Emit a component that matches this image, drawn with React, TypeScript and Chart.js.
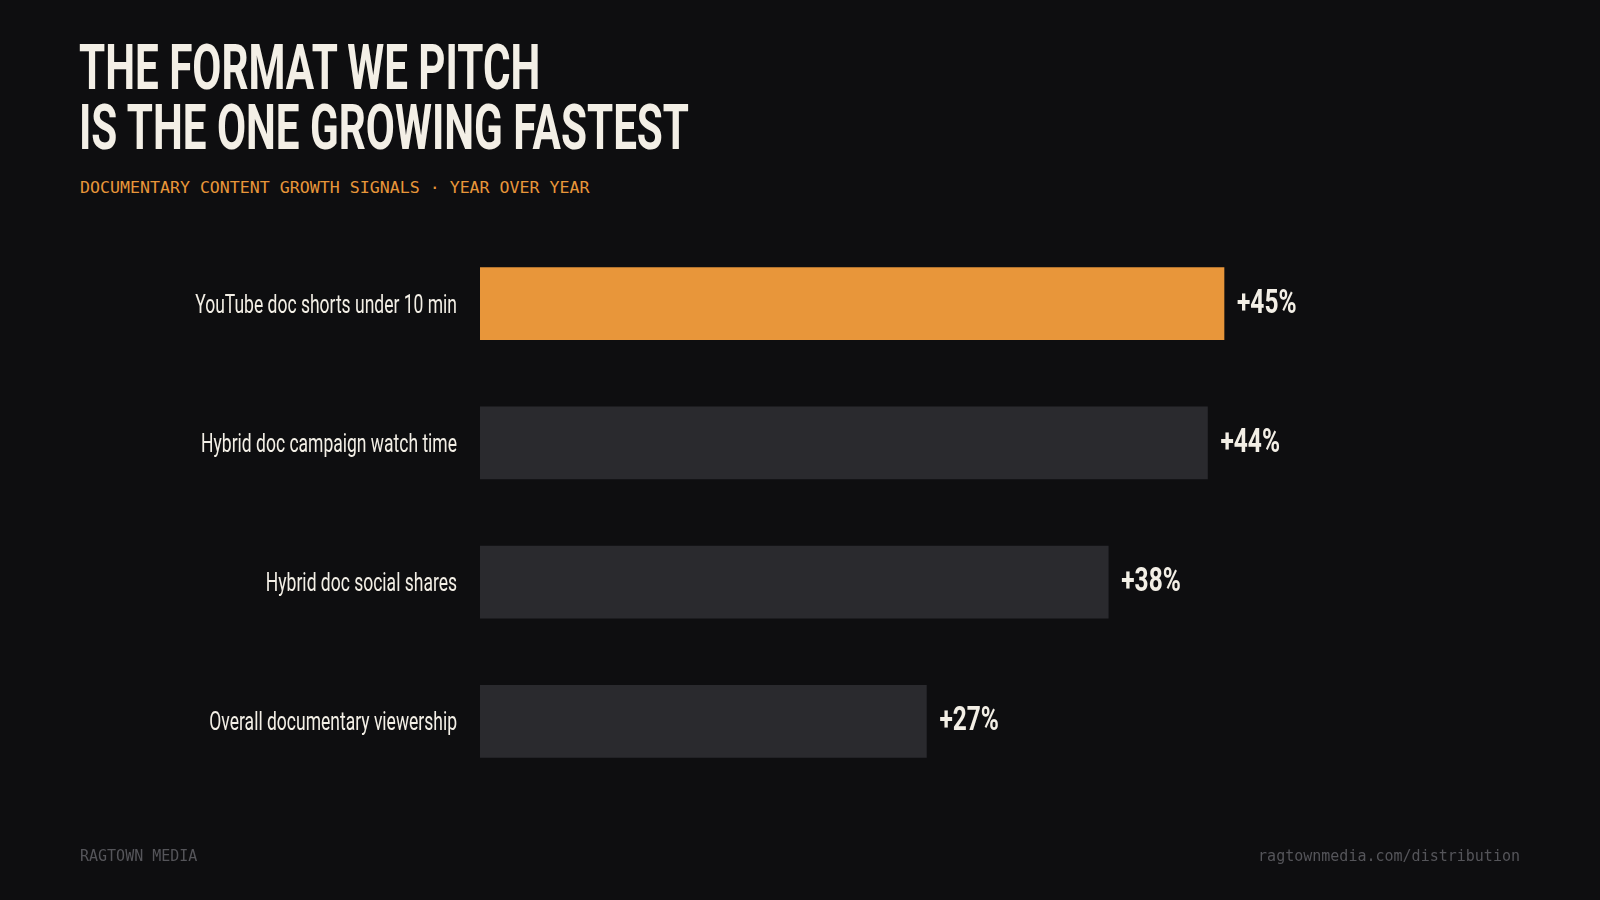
import React, { useEffect, useRef } from "react";
import { Chart, registerables } from "chart.js";

Chart.register(...registerables);

// growth signals, year over year (%)
const categories = [
  "YouTube doc shorts under 10 min",
  "Hybrid doc campaign watch time",
  "Hybrid doc social shares",
  "Overall documentary viewership",
];
const growth = [45, 44, 38, 27];
const highlightIndex = 0;

const BG = "#0e0e10";
const ORANGE = "#e8963a";
const BAR_GREY = "#2a2a2e";
const CREAM = "#f3efe6";
const FOOT_GREY = "#55555a";

const drawCondensed = (
  ctx: CanvasRenderingContext2D,
  text: string,
  x: number,
  y: number,
  sx: number,
  align: CanvasTextAlign,
  font: string,
  color: string
) => {
  ctx.save();
  ctx.translate(x, y);
  ctx.scale(sx, 1);
  ctx.font = font;
  ctx.fillStyle = color;
  ctx.textAlign = align;
  ctx.textBaseline = "alphabetic";
  ctx.fillText(text, 0, 0);
  ctx.restore();
};

const barLabels = {
  id: "barLabels",
  afterDatasetsDraw(chart: any) {
    const ctx = chart.ctx as CanvasRenderingContext2D;
    const meta = chart.getDatasetMeta(0);
    const yScale = chart.scales.y;
    meta.data.forEach((bar: any, i: number) => {
      const { x, y } = bar.getProps(["x", "y"], true);
      drawCondensed(ctx, `+${growth[i]}%`, x + 13, y + 9, 0.72, "left", "700 34px Roboto", CREAM);
      const ly = yScale.getPixelForValue(i);
      drawCondensed(ctx, categories[i], chart.chartArea.left - 23, ly + 9, 0.7, "right", "400 25px Roboto", CREAM);
    });
  },
};

const GrowthChart: React.FC = () => {
  const chartRef = useRef<HTMLCanvasElement | null>(null);
  const chartInstanceRef = useRef<Chart | null>(null);

  useEffect(() => {
    if (!chartRef.current) return;
    const ctx = chartRef.current.getContext("2d");
    if (!ctx) return;
    if (chartInstanceRef.current) chartInstanceRef.current.destroy();

    chartInstanceRef.current = new Chart(ctx, {
      type: "bar",
      data: {
        labels: categories,
        datasets: [
          {
            data: growth,
            backgroundColor: growth.map((_v, i) => (i === highlightIndex ? ORANGE : BAR_GREY)),
            borderWidth: 0,
            barThickness: 72,
          },
        ],
      },
      options: {
        indexAxis: "y",
        animation: false,
        responsive: true,
        maintainAspectRatio: false,
        layout: { padding: { left: 480, right: 128, top: 234, bottom: 109 } },
        scales: {
          x: { display: false, min: 0, max: 60 },
          y: { display: false },
        },
        plugins: {
          legend: { display: false },
          tooltip: { enabled: false },
        },
      },
      plugins: [barLabels],
    });

    return () => {
      if (chartInstanceRef.current) {
        chartInstanceRef.current.destroy();
        chartInstanceRef.current = null;
      }
    };
  }, []);

  return (
    <div style={{ position: "absolute", left: 0, top: 0, width: 1600, height: 900 }}>
      <canvas ref={chartRef}></canvas>
    </div>
  );
};

const App: React.FC = () => {
  return (
    <div
      style={{
        position: "fixed",
        left: 0,
        top: 0,
        width: 1600,
        height: 900,
        background: BG,
        overflow: "hidden",
      }}
    >
      <div
        style={{
          position: "absolute",
          left: 79,
          top: 38,
          fontFamily: "Roboto, sans-serif",
          fontWeight: 700,
          fontSize: 63,
          lineHeight: "60px",
          color: CREAM,
          whiteSpace: "nowrap",
          transform: "scaleX(0.67)",
          transformOrigin: "left top",
        }}
      >
        <div>THE FORMAT WE PITCH</div>
        <div>IS THE ONE GROWING FASTEST</div>
      </div>
      <div
        style={{
          position: "absolute",
          left: 80,
          top: 178,
          fontFamily: "'DejaVu Sans Mono', monospace",
          fontSize: 16.6,
          lineHeight: "20px",
          color: ORANGE,
          whiteSpace: "nowrap",
        }}
      >
        DOCUMENTARY CONTENT GROWTH SIGNALS · YEAR OVER YEAR
      </div>
      <GrowthChart />
      <div
        style={{
          position: "absolute",
          left: 80,
          top: 849,
          fontFamily: "'DejaVu Sans Mono', monospace",
          fontSize: 15,
          lineHeight: "15px",
          color: FOOT_GREY,
          whiteSpace: "nowrap",
        }}
      >
        RAGTOWN MEDIA
      </div>
      <div
        style={{
          position: "absolute",
          right: 80,
          top: 849,
          fontFamily: "'DejaVu Sans Mono', monospace",
          fontSize: 15,
          lineHeight: "15px",
          color: FOOT_GREY,
          whiteSpace: "nowrap",
        }}
      >
        ragtownmedia.com/distribution
      </div>
    </div>
  );
};

export default App;
